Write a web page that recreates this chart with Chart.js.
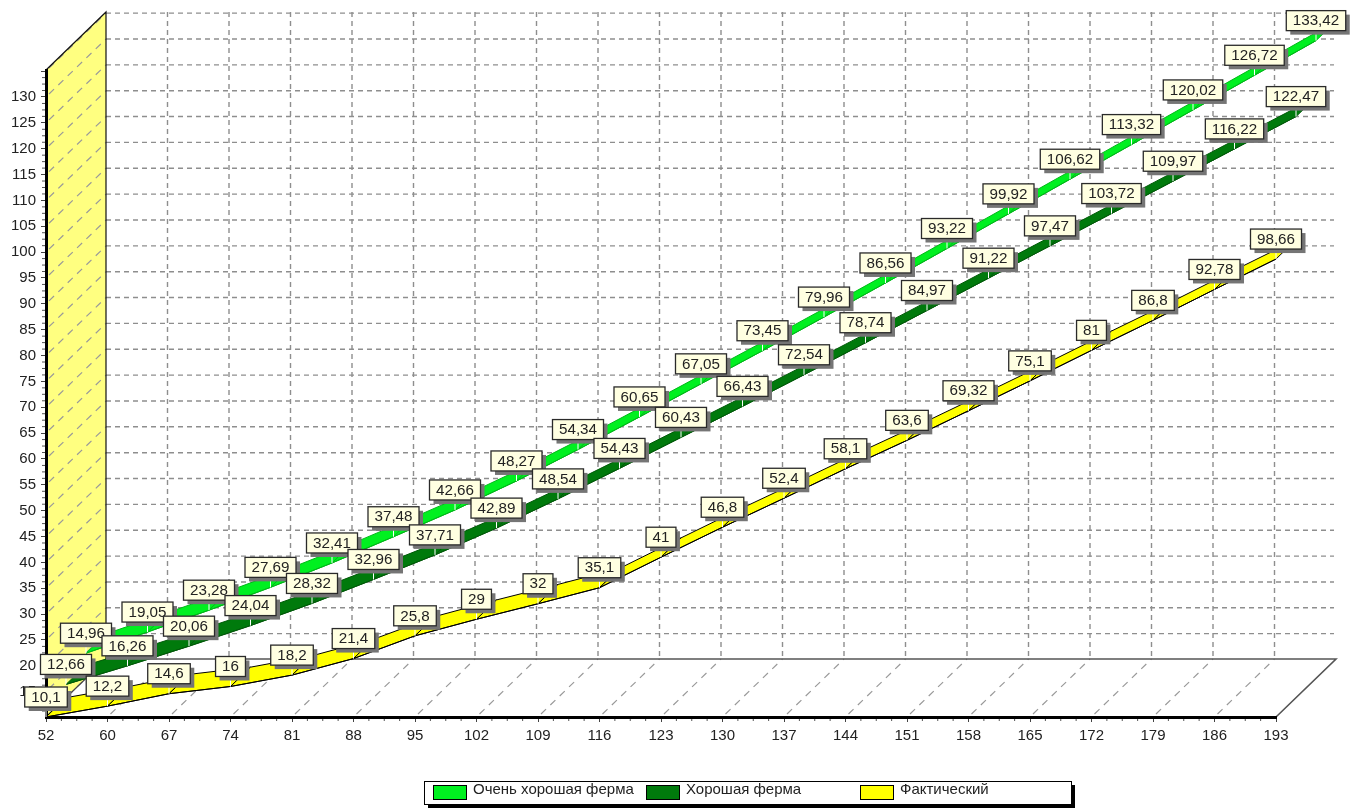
<!DOCTYPE html>
<html>
<head>
<meta charset="utf-8">
<title>Фермы</title>
<script src="https://cdn.jsdelivr.net/npm/chart.js@4"></script>
<style>
  html, body { margin: 0; padding: 0; background: #fff; }
  canvas { display: block; }
</style>
</head>
<body>
<canvas id="farmChart" width="1354" height="810"></canvas>
<script>
const categories = ['52','60','67','74','81','88','95','102','109','116','123','130','137','144','151','158','165','172','179','186','193'];
const veryGoodFarm = [14.96,19.05,23.28,27.69,32.41,37.48,42.66,48.27,54.34,60.65,67.05,73.45,79.96,86.56,93.22,99.92,106.62,113.32,120.02,126.72,133.42];
const goodFarm = [12.66,16.26,20.06,24.04,28.32,32.96,37.71,42.89,48.54,54.43,60.43,66.43,72.54,78.74,84.97,91.22,97.47,103.72,109.97,116.22,122.47];
const actual = [10.1,12.2,14.6,16,18.2,21.4,25.8,29,32,35.1,41,46.8,52.4,58.1,63.6,69.32,75.1,81,86.8,92.78,98.66];
const yTicks = [15,20,25,30,35,40,45,50,55,60,65,70,75,80,85,90,95,100,105,110,115,120,125,130,135];
const yMin = 10.1;
const yMax = 135.22;

// depth of the fake 3D box
const DEPTH_X = 60;
const DEPTH_Y = -58;
const FONT = '"Liberation Sans", Arial, sans-serif';

function dashed(ctx, x1, y1, x2, y2) {
    ctx.beginPath();
    ctx.moveTo(x1, y1);
    ctx.lineTo(x2, y2);
    ctx.stroke();
}

// back wall, left wall and floor
const boxPlugin = {
    id: 'box3d',
    beforeDraw(chart) {
        const ctx = chart.ctx;
        const x = chart.scales.x, y = chart.scales.y;
        const a = chart.chartArea;
        ctx.save();
        ctx.fillStyle = '#fff';
        ctx.fillRect(0, 0, chart.width, chart.height);

        // left wall
        ctx.fillStyle = '#ffff80';
        ctx.beginPath();
        ctx.moveTo(a.left, a.top);
        ctx.lineTo(a.left + DEPTH_X, a.top + DEPTH_Y);
        ctx.lineTo(a.left + DEPTH_X, a.bottom + DEPTH_Y);
        ctx.lineTo(a.left, a.bottom);
        ctx.closePath();
        ctx.fill();

        // horizontal grid on back wall + diagonals on left wall
        ctx.setLineDash([5, 4]);
        ctx.lineWidth = 1.4;
        ctx.strokeStyle = '#8e8e8e';
        yTicks.forEach(v => {
            const py = y.getPixelForValue(v);
            dashed(ctx, a.left + DEPTH_X, py + DEPTH_Y, a.right + DEPTH_X - 2, py + DEPTH_Y);
        });
        categories.forEach((c, i) => {
            if (i === 0 || i === categories.length - 1) return;
            const px = x.getPixelForValue(i);
            dashed(ctx, px + DEPTH_X, a.top + DEPTH_Y, px + DEPTH_X, a.bottom + DEPTH_Y);
        });
        ctx.setLineDash([7, 6]);
        ctx.lineWidth = 1.2;
        ctx.strokeStyle = '#999';
        yTicks.forEach(v => {
            const py = y.getPixelForValue(v);
            dashed(ctx, a.left + 3, py - 3, a.left + DEPTH_X, py + DEPTH_Y);
        });
        categories.forEach((c, i) => {
            if (i === categories.length - 1) return;
            const px = x.getPixelForValue(i);
            dashed(ctx, px + 3, a.bottom - 3, px + DEPTH_X, a.bottom + DEPTH_Y);
        });
        ctx.setLineDash([]);

        // box edges
        ctx.strokeStyle = '#111';
        ctx.lineWidth = 1.2;
        ctx.beginPath();
        ctx.moveTo(a.left, a.top);
        ctx.lineTo(a.left + DEPTH_X, a.top + DEPTH_Y);
        ctx.lineTo(a.left + DEPTH_X, a.bottom + DEPTH_Y);
        ctx.stroke();
        ctx.strokeStyle = '#444';
        ctx.beginPath();
        ctx.moveTo(a.left, a.bottom);
        ctx.lineTo(a.left + DEPTH_X, a.bottom + DEPTH_Y);
        ctx.stroke();
        ctx.lineWidth = 1.6;
        ctx.strokeStyle = '#555';
        ctx.beginPath();
        ctx.moveTo(a.left + DEPTH_X, a.bottom + DEPTH_Y);
        ctx.lineTo(a.right + DEPTH_X, a.bottom + DEPTH_Y);
        ctx.lineTo(a.right, a.bottom);
        ctx.stroke();

        // minor ticks
        ctx.lineWidth = 1;
        ctx.strokeStyle = '#555';
        ctx.beginPath();
        for (let i = 0; i < categories.length - 1; i++) {
            const p0 = x.getPixelForValue(i), p1 = x.getPixelForValue(i + 1);
            for (let k = 1; k < 4; k++) {
                const px = p0 + (p1 - p0) * k / 4;
                ctx.moveTo(px, a.bottom);
                ctx.lineTo(px, a.bottom + 4);
            }
        }
        const allY = [10].concat(yTicks);
        for (let i = 0; i < allY.length - 1; i++) {
            for (let k = 1; k < 4; k++) {
                const v = allY[i] + 5 * k / 4;
                if (v < yMin) continue;
                const py = y.getPixelForValue(v);
                ctx.moveTo(a.left, py);
                ctx.lineTo(a.left - 4, py);
            }
        }
        ctx.stroke();
        ctx.restore();
    }
};

// each series is a ribbon: native line is the front edge, the rest goes in behind it
const ribbonPlugin = {
    id: 'ribbon3d',
    beforeDatasetDraw(chart, args) {
        const ctx = chart.ctx;
        const ds = chart.data.datasets[args.index];
        const dx = DEPTH_X * ds.slot / 3, dy = DEPTH_Y * ds.slot / 3;
        const stepX = DEPTH_X / 3, stepY = DEPTH_Y / 3;
        ctx.save();
        ctx.translate(dx, dy);
        const pts = args.meta.data;
        ctx.fillStyle = ds.backgroundColor;
        ctx.strokeStyle = ds.borderColor;
        ctx.lineWidth = 1;
        for (let i = 0; i < pts.length - 1; i++) {
            ctx.beginPath();
            ctx.moveTo(pts[i].x, pts[i].y);
            ctx.lineTo(pts[i + 1].x, pts[i + 1].y);
            ctx.lineTo(pts[i + 1].x + stepX, pts[i + 1].y + stepY);
            ctx.lineTo(pts[i].x + stepX, pts[i].y + stepY);
            ctx.closePath();
            ctx.fill();
            ctx.stroke();
        }
    },
    afterDatasetDraw(chart, args) {
        const ctx = chart.ctx;
        const ds = chart.data.datasets[args.index];
        const pts = args.meta.data;
        ctx.font = '15.2px ' + FONT;
        ctx.textAlign = 'center';
        ctx.textBaseline = 'middle';
        pts.forEach((p, i) => {
            // callout stub
            ctx.strokeStyle = '#fff';
            ctx.lineWidth = 1;
            ctx.beginPath();
            ctx.moveTo(p.x, p.y);
            ctx.lineTo(p.x, p.y - 10);
            ctx.stroke();

            const txt = String(ds.data[i]).replace('.', ',');
            const w = ctx.measureText(txt).width + 13;
            const h = 20;
            const bx = p.x - w / 2, by = p.y - 10 - h;
            ctx.fillStyle = '#757575';
            ctx.fillRect(bx + 4, by + 4, w, h);
            ctx.fillStyle = '#ffffe1';
            ctx.fillRect(bx, by, w, h);
            ctx.strokeStyle = '#2a2a2a';
            ctx.lineWidth = 1.3;
            ctx.strokeRect(bx, by, w, h);
            ctx.fillStyle = '#222';
            ctx.fillText(txt, p.x, by + h / 2 + 0.5);
        });
        ctx.restore();
    }
};

const legendPlugin = {
    id: 'boxLegend',
    afterDraw(chart) {
        const ctx = chart.ctx;
        const swatchX = [433, 646, 860];
        ctx.save();
        ctx.fillStyle = '#000';
        ctx.fillRect(428, 785, 647, 23);
        ctx.fillStyle = '#fff';
        ctx.fillRect(424, 781, 647, 23);
        ctx.strokeStyle = '#000';
        ctx.lineWidth = 1;
        ctx.strokeRect(424.5, 781.5, 647, 23);
        ctx.font = '15px ' + FONT;
        ctx.textAlign = 'left';
        ctx.textBaseline = 'middle';
        chart.data.datasets.forEach((ds, i) => {
            ctx.fillStyle = ds.backgroundColor;
            ctx.fillRect(swatchX[i], 785, 33, 14);
            ctx.strokeStyle = '#000';
            ctx.strokeRect(swatchX[i] + 0.5, 785.5, 33, 14);
            ctx.fillStyle = '#222';
            ctx.fillText(ds.label, swatchX[i] + 40, 790);
        });
        ctx.restore();
    }
};

new Chart(document.getElementById('farmChart').getContext('2d'), {
    type: 'line',
    data: {
        labels: categories,
        datasets: [
            { label: 'Очень хорошая ферма', data: veryGoodFarm, backgroundColor: '#00f020', borderColor: '#00b818', slot: 2, order: 3 },
            { label: 'Хорошая ферма', data: goodFarm, backgroundColor: '#007a0c', borderColor: '#005a08', slot: 1, order: 2 },
            { label: 'Фактический', data: actual, backgroundColor: '#ffff00', borderColor: '#000', slot: 0, order: 1 }
        ]
    },
    options: {
        responsive: false,
        animation: false,
        layout: { padding: { left: 0, top: 70, right: 78, bottom: 63 } },
        elements: {
            point: { radius: 0 },
            line: { borderWidth: 1, tension: 0, fill: false }
        },
        datasets: { line: { clip: false } },
        plugins: { legend: { display: false }, tooltip: { enabled: false }, title: { display: false } },
        scales: {
            x: {
                offset: false,
                grid: { drawOnChartArea: false, drawTicks: true, tickLength: 5, tickColor: '#444' },
                border: { display: true, color: '#000', width: 3 },
                ticks: {
                    autoSkip: false, maxRotation: 0, padding: 5, color: '#222',
                    font: { family: FONT, size: 15 }
                },
                afterFit(scale) { scale.height = 30; scale.paddingLeft = 0; scale.paddingRight = 0; }
            },
            y: {
                min: yMin,
                max: yMax,
                grid: { drawOnChartArea: false, drawTicks: true, tickLength: 5, tickColor: '#444' },
                border: { display: true, color: '#000', width: 3 },
                afterBuildTicks(scale) { scale.ticks = yTicks.map(v => ({ value: v })); },
                ticks: {
                    autoSkip: false, padding: 5, color: '#222',
                    font: { family: FONT, size: 15 },
                    callback: v => (v === 135 ? '' : v)
                },
                afterFit(scale) { scale.width = 46; scale.paddingTop = 0; scale.paddingBottom = 0; }
            }
        }
    },
    plugins: [boxPlugin, ribbonPlugin, legendPlugin]
});
</script>
</body>
</html>
